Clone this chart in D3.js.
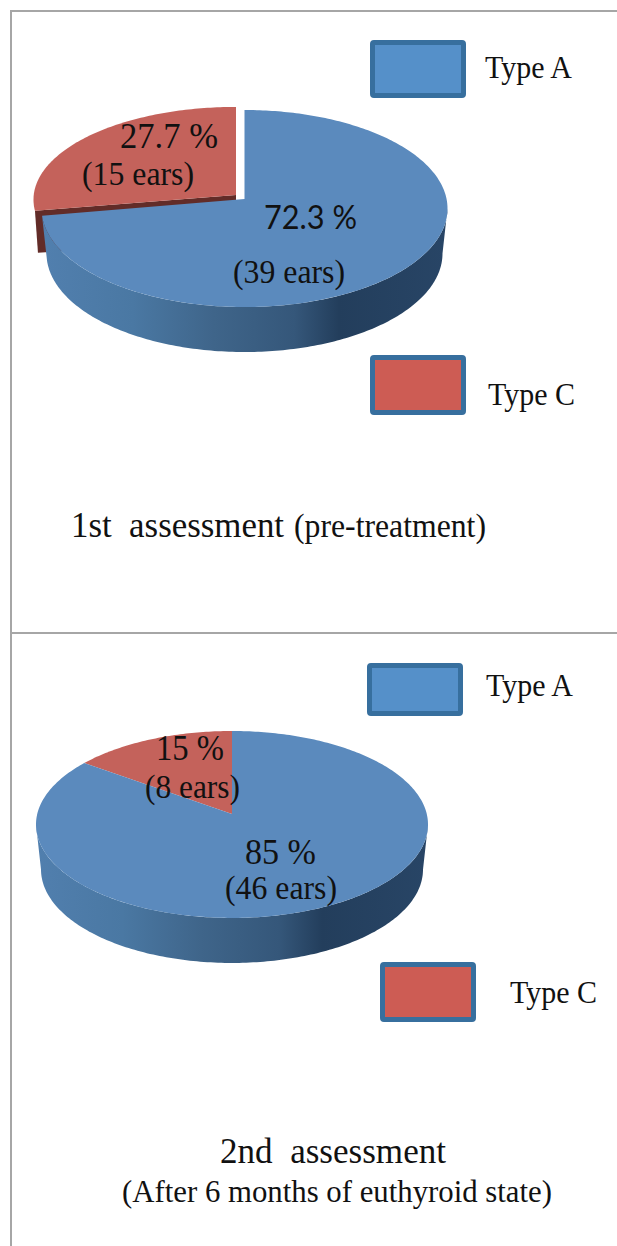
<!DOCTYPE html>
<html>
<head>
<meta charset="utf-8">
<script src="https://cdn.jsdelivr.net/npm/d3@7"></script>
<style>
  html, body { margin: 0; padding: 0; background: #fff; }
  svg { display: block; }
  text { font-family: "Liberation Serif", serif; fill: #111; }
</style>
</head>
<body>
<script>
// values
const categories = ["Type A", "Type C"];
const shares1st = [72.3, 27.7];
const ears1st = [39, 15];
const shares2nd = [85, 15];
const ears2nd = [46, 8];
const shareLabels1st = ["72.3 %", "27.7 %"];
const shareLabels2nd = ["85 %", "15 %"];

const width = 617;
const height = 1246;

const topColor = d3.scaleOrdinal().domain(categories).range(["#5b8abd", "#c4625b"]);
const legendFill = d3.scaleOrdinal().domain(categories).range(["#5590c9", "#cd5c54"]);
const legendStroke = "#376f9e";

const svg = d3.select("body").append("svg")
    .attr("width", width)
    .attr("height", height);

// shaded rim, same horizontal ramp for both pies
const defs = svg.append("defs");
function rimGradient(id, x1, x2) {
    const g = defs.append("linearGradient")
        .attr("id", id)
        .attr("gradientUnits", "userSpaceOnUse")
        .attr("x1", x1).attr("x2", x2)
        .attr("y1", 0).attr("y2", 0);
    const stops = [[0, "#517fae"], [0.22, "#4a78a3"], [0.42, "#3f658a"], [0.62, "#35577a"],
        [0.73, "#233e5c"], [1, "#284566"]];
    stops.forEach(s => g.append("stop").attr("offset", s[0]).attr("stop-color", s[1]));
}

// frame
const frame = svg.append("g").attr("stroke", "#a6a6a6").attr("stroke-width", 2);
frame.append("line").attr("x1", 11).attr("x2", 11).attr("y1", 10).attr("y2", height);
frame.append("line").attr("x1", 10).attr("x2", width).attr("y1", 11).attr("y2", 11);
frame.append("line").attr("x1", 10).attr("x2", width).attr("y1", 633).attr("y2", 633);

const pie = d3.pie().sort(null).value(d => d);
const line = d3.line();

// perspective disc: far side is squeezed, near side stretched
function projector(o) {
    const r = o.halfWidth * Math.sqrt(1 - o.tilt * o.tilt);
    return (a, drop = 0) => {
        const w = 1 + o.tilt * Math.cos(a);
        return [o.cx + r * Math.sin(a) / w, o.cy - o.k * Math.cos(a) / w + drop];
    };
}

function sweep(a0, a1) {
    const n = Math.max(2, Math.ceil(Math.abs(a1 - a0) * 60));
    return d3.range(n + 1).map(i => a0 + (a1 - a0) * i / n);
}

function drawPie(shares, blue, red, depth, pinch, gradId) {
    const arcs = pie(shares);
    const g = svg.append("g");
    const pBlue = projector(blue);
    const pBlueLow = projector({ ...blue, halfWidth: blue.halfWidth - pinch }); // lower rim is a bit narrower
    const pRed = projector(red);
    const A = arcs[0], C = arcs[1];

    // cut face of the red slice, if it is pulled out
    if (red.pulled) {
        const corner = pRed(C.startAngle);
        const apex = [red.cx, red.cy];
        g.append("path")
            .attr("d", line([apex, corner, [corner[0] + 3, corner[1] + depth - 3], [apex[0], apex[1] + depth]]) + "Z")
            .attr("fill", "#622c28");
    }

    g.append("path")
        .attr("d", line([[red.cx, red.cy], ...sweep(C.startAngle, C.endAngle).map(a => pRed(a))]) + "Z")
        .attr("fill", topColor(categories[1]));

    // rim of the blue slice, only the part facing the viewer
    const a0 = Math.acos(-blue.tilt);
    const a1 = Math.min(A.endAngle, 2 * Math.PI - a0);
    const rimAngles = sweep(a0, a1);
    g.append("path")
        .attr("d", line([...rimAngles.map(a => pBlue(a)), ...rimAngles.slice().reverse().map(a => pBlueLow(a, depth))]) + "Z")
        .attr("fill", `url(#${gradId})`);

    g.append("path")
        .attr("d", line([[blue.cx, blue.cy], ...sweep(A.startAngle, A.endAngle).map(a => pBlue(a))]) + "Z")
        .attr("fill", topColor(categories[0]));
}

rimGradient("rim1", 44, 448);
rimGradient("rim2", 36, 428);

drawPie(shares1st,
    { cx: 244.5, cy: 199, k: 97.6, tilt: 0.0964, halfWidth: 203 },
    { cx: 236, cy: 195, k: 92.5, tilt: 0.05, halfWidth: 202.5, pulled: true },
    45, 5, "rim1");
drawPie(shares2nd,
    { cx: 232, cy: 814, k: 92.3, tilt: 0.112, halfWidth: 196 },
    { cx: 232, cy: 814, k: 92.3, tilt: 0.112, halfWidth: 196 },
    45, 5, "rim2");

// slice labels, captions: squeezed to the measured width like the original
function label(txt, x, y, size, len, family) {
    const t = svg.append("text")
        .attr("x", x).attr("y", y)
        .attr("font-size", size)
        .attr("textLength", len)
        .attr("lengthAdjust", "spacingAndGlyphs")
        .text(txt);
    if (family) t.style("font-family", family);
}

// legend boxes
const legend = [
    { cat: 0, x: 372.5, y: 42.5, w: 91, h: 53, tx: 485, ty: 78 },
    { cat: 1, x: 372.5, y: 357.5, w: 91, h: 55, tx: 488, ty: 405 },
    { cat: 0, x: 369.5, y: 665.5, w: 91, h: 48, tx: 486, ty: 696 },
    { cat: 1, x: 382.5, y: 964.5, w: 91, h: 55, tx: 510, ty: 1003 }
];
legend.forEach(d => {
    svg.append("rect")
        .attr("x", d.x).attr("y", d.y)
        .attr("width", d.w).attr("height", d.h)
        .attr("rx", 1.5)
        .attr("fill", legendFill(categories[d.cat]))
        .attr("stroke", legendStroke)
        .attr("stroke-width", 5);
    label(categories[d.cat], d.tx, d.ty, 32, 87);
});

label(shareLabels1st[1], 120, 148, 35, 98);
label(`(${ears1st[1]} ears)`, 82, 185, 33, 112);
label(shareLabels1st[0], 264, 229, 32, 93, "Lato");
label(`(${ears1st[0]} ears)`, 233, 283, 33, 112);
label(shareLabels2nd[1], 156, 760, 35, 68);
label(`(${ears2nd[1]} ears)`, 145, 798, 33, 95);
label(shareLabels2nd[0], 245, 864, 35, 71);
label(`(${ears2nd[0]} ears)`, 225, 899, 33, 112);

// captions
label("1st  assessment", 71, 537, 35, 213);
label("(pre-treatment)", 294, 537, 33, 192);
label("2nd  assessment", 220, 1163, 35, 226);
label("(After 6 months of euthyroid state)", 122, 1202, 32, 430);

svg.selectAll("text").attr("xml:space", "preserve").style("white-space", "pre");
</script>
</body>
</html>
